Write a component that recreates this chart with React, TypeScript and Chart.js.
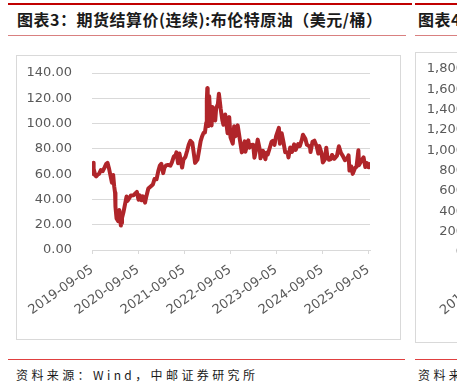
import React, { useEffect, useRef } from "react";
import { Chart, registerables } from "chart.js";

Chart.register(...registerables);

const title = "图表3：期货结算价(连续):布伦特原油（美元/桶）";
const title2 = "图表4";
const source = "资料来源：Wind，中邮证券研究所";
const source2 = "资料来源";

const startDate = "2019-09-05";

const dates = [
  "2019-09-05","2019-09-13","2019-09-16","2019-09-20","2019-10-01","2019-10-08","2019-10-18","2019-10-31",
  "2019-11-15","2019-11-29","2019-12-13","2019-12-27","2020-01-06","2020-01-17","2020-01-31","2020-02-10",
  "2020-02-20","2020-02-28","2020-03-06","2020-03-09","2020-03-18","2020-03-31","2020-04-02","2020-04-09",
  "2020-04-21","2020-04-24","2020-04-30","2020-05-11","2020-05-22","2020-06-05","2020-06-12","2020-06-26",
  "2020-07-10","2020-07-31","2020-08-14","2020-08-26","2020-09-08","2020-09-18","2020-10-02","2020-10-13",
  "2020-10-30","2020-11-09","2020-11-25","2020-12-11","2020-12-31","2021-01-13","2021-01-29","2021-02-12",
  "2021-02-25","2021-03-08","2021-03-23","2021-04-01","2021-04-15","2021-04-30","2021-05-19","2021-05-31",
  "2021-06-15","2021-06-30","2021-07-06","2021-07-19","2021-07-30","2021-08-20","2021-08-31","2021-09-15",
  "2021-09-28","2021-10-12","2021-10-25","2021-11-09","2021-11-26","2021-12-01","2021-12-20","2021-12-31",
  "2022-01-14","2022-01-26","2022-02-07","2022-02-17","2022-02-28","2022-03-04","2022-03-08","2022-03-11",
  "2022-03-16","2022-03-23","2022-04-01","2022-04-11","2022-04-18","2022-04-29","2022-05-10","2022-05-17",
  "2022-05-31","2022-06-08","2022-06-22","2022-07-05","2022-07-14","2022-07-28","2022-08-16","2022-08-29",
  "2022-09-08","2022-09-26","2022-10-07","2022-10-18","2022-11-04","2022-11-21","2022-12-07","2022-12-15",
  "2022-12-30","2023-01-04","2023-01-27","2023-02-06","2023-02-21","2023-03-07","2023-03-17","2023-03-31",
  "2023-04-12","2023-04-28","2023-05-04","2023-05-24","2023-06-12","2023-06-20","2023-06-30","2023-07-14",
  "2023-07-31","2023-08-10","2023-08-23","2023-09-05","2023-09-27","2023-10-05","2023-10-19","2023-11-03",
  "2023-11-16","2023-12-05","2023-12-12","2023-12-26","2024-01-09","2024-01-26","2024-02-07","2024-02-27",
  "2024-03-11","2024-03-28","2024-04-05","2024-04-24","2024-05-06","2024-05-31","2024-06-04","2024-06-20",
  "2024-07-05","2024-07-24","2024-08-05","2024-08-12","2024-08-30","2024-09-10","2024-09-27","2024-10-07",
  "2024-10-15","2024-10-28","2024-11-12","2024-11-22","2024-12-09","2024-12-31","2025-01-15","2025-01-31",
  "2025-02-14","2025-03-04","2025-03-25","2025-04-02","2025-04-09","2025-04-23","2025-05-05","2025-05-23",
  "2025-06-04","2025-06-19","2025-06-24","2025-07-11","2025-07-30","2025-08-13","2025-08-26","2025-09-05",
  "2025-09-10","2025-09-16","2025-09-19"
];

const prices = [
  60.9,60.2,69.0,64.3,58.9,58.2,59.4,60.2,
  63.3,62.4,65.2,68.2,68.9,64.9,58.2,53.3,
  59.3,50.5,45.3,34.4,24.9,22.7,29.9,31.5,
  19.3,21.4,25.3,29.6,35.1,42.3,38.7,41.0,
  43.2,43.3,44.8,45.9,39.8,43.2,39.3,42.5,
  37.5,42.4,48.6,50.0,51.8,56.1,55.9,62.4,
  66.9,68.2,60.8,64.9,66.9,67.3,66.7,69.3,
  73.9,75.1,77.2,68.6,76.3,65.2,71.6,73.6,
  78.1,83.4,86.4,84.8,72.7,68.9,71.5,77.8,
  86.1,90.0,92.7,92.9,100.9,118.1,128.0,112.7,
  98.0,121.6,104.4,98.5,113.2,109.3,102.5,111.9,
  115.6,123.6,111.7,102.8,99.1,107.1,92.3,105.1,
  89.2,84.1,97.9,90.0,98.6,87.5,77.2,81.2,
  85.9,77.8,86.7,80.9,83.1,83.3,73.0,79.8,
  87.3,79.5,72.5,78.4,71.8,76.9,75.4,79.9,
  85.6,86.4,83.2,90.0,96.6,84.1,92.4,84.9,
  77.4,77.2,73.2,81.1,77.6,83.6,79.2,83.7,
  82.2,87.5,91.2,88.0,83.3,81.6,77.5,85.7,
  86.5,81.7,76.3,82.3,76.9,69.2,71.9,80.9,
  74.3,71.4,71.9,75.2,72.1,74.6,82.0,76.8,
  74.7,71.0,73.0,74.9,62.8,66.1,60.2,64.8,
  65.9,78.9,67.1,70.4,73.2,65.6,68.8,65.5,
  67.5,68.0,66.7
];

const xTickLabels = ["2019-09-05","2020-09-05","2021-09-05","2022-09-05","2023-09-05","2024-09-05","2025-09-05"];
const yMin = 0;
const yMax = 140;
const yStep = 20;

const rightXLabels = ["2019-09-05","2020-09-05","2021-09-05"];
const rightYMin = 0;
const rightYMax = 1800;
const rightYStep = 200;

function dayOffset(d: string): number {
  return Math.round((Date.parse(d) - Date.parse(startDate)) / 86400000);
}

const TICK_FONT = { family: "DejaVu Sans", size: 13 };
const X_FONT = { family: "DejaVu Sans", size: 13 };
const GRAY_TEXT = "#595959";
const GRID = "#d9d9d9";

export default function App() {
  const mainRef = useRef<HTMLCanvasElement | null>(null);
  const rightRef = useRef<HTMLCanvasElement | null>(null);

  useEffect(() => {
    const xTickDays = xTickLabels.map(dayOffset);
    const points = dates.map((d, i) => ({ x: dayOffset(d), y: prices[i] }));
    const main = new Chart(mainRef.current as HTMLCanvasElement, {
      type: "line",
      data: {
        datasets: [
          {
            data: points,
            borderColor: "#B0252A",
            borderWidth: 4,
            pointRadius: 0,
            tension: 0,
            borderJoinStyle: "round",
            borderCapStyle: "round",
          },
        ],
      },
      options: {
        animation: false,
        responsive: false,
        maintainAspectRatio: false,
        layout: { padding: { top: 18, right: 31, left: 0, bottom: 0 } },
        plugins: { legend: { display: false }, tooltip: { enabled: false } },
        scales: {
          x: {
            type: "linear",
            min: 0,
            max: dayOffset(dates[dates.length - 1]),
            afterBuildTicks: (s: any) => {
              s.ticks = xTickDays.map((v) => ({ value: v }));
            },
            afterFit: (s: any) => {
              s.height = 90;
              s.paddingRight = 0;
            },
            ticks: {
              autoSkip: false,
              minRotation: 35,
              maxRotation: 35,
              padding: 8,
              font: X_FONT,
              color: GRAY_TEXT,
              callback: (v: any) => {
                const idx = xTickDays.indexOf(Number(v));
                return idx >= 0 ? xTickLabels[idx] : "";
              },
            },
            grid: { drawOnChartArea: false, drawTicks: true, tickLength: 4, color: GRID },
            border: { display: true, color: GRID },
          },
          y: {
            min: yMin,
            max: yMax,
            afterFit: (s: any) => {
              s.width = 76;
              s.paddingTop = 0;
              s.paddingBottom = 0;
            },
            ticks: {
              autoSkip: false,
              stepSize: yStep,
              padding: 20,
              font: TICK_FONT,
              color: GRAY_TEXT,
              callback: (v: any) => Number(v).toFixed(2),
            },
            grid: { color: GRID, drawTicks: false, lineWidth: 1 },
            border: { display: false },
          },
        },
      },
    } as any);

    const right = new Chart(rightRef.current as HTMLCanvasElement, {
      type: "line",
      data: {
        labels: rightXLabels,
        datasets: [{ data: [], borderColor: "#B0252A", pointRadius: 0 }],
      },
      options: {
        animation: false,
        responsive: false,
        maintainAspectRatio: false,
        layout: { padding: { top: 17, right: 10, left: 0, bottom: 0 } },
        plugins: { legend: { display: false }, tooltip: { enabled: false } },
        scales: {
          x: {
            afterFit: (s: any) => {
              s.height = 91;
            },
            ticks: {
              autoSkip: false,
              minRotation: 40,
              maxRotation: 40,
              padding: 2,
              font: X_FONT,
              color: GRAY_TEXT,
            },
            grid: { drawOnChartArea: false, drawTicks: true, tickLength: 4, color: GRID },
            border: { display: true, color: GRID },
          },
          y: {
            min: rightYMin,
            max: rightYMax,
            afterFit: (s: any) => {
              s.width = 85;
              s.paddingTop = 0;
              s.paddingBottom = 0;
            },
            ticks: {
              autoSkip: false,
              stepSize: rightYStep,
              padding: 36,
              font: TICK_FONT,
              color: GRAY_TEXT,
              callback: (v: any) => Number(v).toLocaleString("en-US"),
            },
            grid: { color: GRID, drawTicks: false },
            border: { display: false },
          },
        },
      },
    } as any);

    return () => {
      main.destroy();
      right.destroy();
    };
  }, []);

  const cjk = '"Noto Sans CJK SC", "Noto Sans", sans-serif';

  return (
    <div
      style={{
        position: "fixed",
        left: 0,
        top: 0,
        width: 457,
        height: 387,
        overflow: "hidden",
        background: "#ffffff",
      }}
    >
      <div style={{ position: "absolute", left: 8, top: 3, width: 404, height: 2, background: "#C00000" }} />
      <div style={{ position: "absolute", left: 415, top: 3, width: 60, height: 2, background: "#C00000" }} />
      <div
        style={{
          position: "absolute",
          left: 17,
          top: 9,
          fontFamily: cjk,
          fontWeight: 700,
          fontSize: 16,
          letterSpacing: "0.5px",
          lineHeight: "20px",
          color: "#1a1a1a",
          whiteSpace: "nowrap",
        }}
      >
        {title}
      </div>
      <div
        style={{
          position: "absolute",
          left: 418,
          top: 9,
          fontFamily: cjk,
          fontWeight: 700,
          fontSize: 16,
          letterSpacing: "0.5px",
          lineHeight: "20px",
          color: "#1a1a1a",
          whiteSpace: "nowrap",
        }}
      >
        {title2}
      </div>
      <div style={{ position: "absolute", left: 8, top: 35, width: 398, height: 1, background: "#D98080" }} />
      <div style={{ position: "absolute", left: 415, top: 35, width: 60, height: 1, background: "#D98080" }} />

      <div
        style={{
          position: "absolute",
          left: 16,
          top: 55,
          width: 385,
          height: 285,
          boxSizing: "border-box",
          border: "1px solid #d9d9d9",
        }}
      />
      <canvas
        ref={mainRef}
        width={385}
        height={285}
        style={{ position: "absolute", left: 16, top: 55, width: 385, height: 285 }}
      />

      <div
        style={{
          position: "absolute",
          left: 415,
          top: 52,
          width: 300,
          height: 291,
          boxSizing: "border-box",
          border: "1px solid #d9d9d9",
        }}
      />
      <canvas
        ref={rightRef}
        width={300}
        height={291}
        style={{ position: "absolute", left: 415, top: 52, width: 300, height: 291 }}
      />

      <div style={{ position: "absolute", left: 8, top: 359, width: 397, height: 1, background: "#E04040" }} />
      <div style={{ position: "absolute", left: 415, top: 359, width: 60, height: 1, background: "#E04040" }} />
      <div
        style={{
          position: "absolute",
          left: 16,
          top: 366,
          fontFamily: cjk,
          fontSize: 12,
          letterSpacing: "3.4px",
          lineHeight: "18px",
          color: "#1a1a1a",
          whiteSpace: "nowrap",
        }}
      >
        {source}
      </div>
      <div
        style={{
          position: "absolute",
          left: 418,
          top: 366,
          fontFamily: cjk,
          fontSize: 12,
          letterSpacing: "3.4px",
          lineHeight: "18px",
          color: "#1a1a1a",
          whiteSpace: "nowrap",
        }}
      >
        {source2}
      </div>
    </div>
  );
}
